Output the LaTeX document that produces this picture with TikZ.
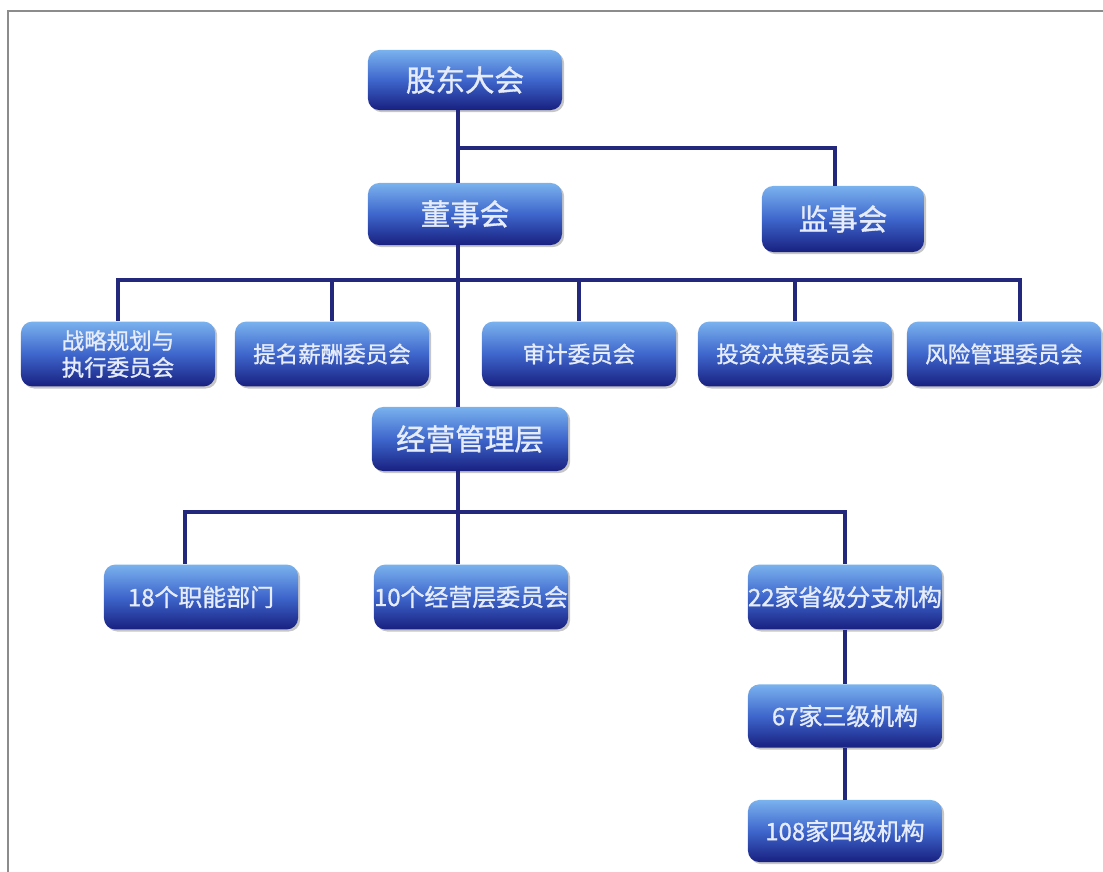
\documentclass[tikz,border=0pt]{standalone}
\usepackage{fontspec}
\setmainfont{Noto Sans CJK SC}[AutoFakeBold=1.2]
\usepackage{tikz}
\usetikzlibrary{shadows}
\definecolor{org-top}{RGB}{122,178,238}
\definecolor{org-mid}{RGB}{62,102,204}
\definecolor{org-bot}{RGB}{24,32,128}
\definecolor{org-line}{RGB}{35,40,125}
\definecolor{org-text}{RGB}{230,236,250}
\definecolor{frame-gray}{RGB}{140,140,140}

\tikzset{
  orgbox/.style={rounded corners=8pt, top color=org-top, bottom color=org-bot, middle color=org-mid,
    text=org-text, align=center, inner sep=0pt, minimum width=4.85cm, minimum height=1.62cm,
    drop shadow={shadow xshift=1.5pt, shadow yshift=-1.5pt, opacity=0.45}},
  fbig/.style={font=\fontsize{21}{24}\selectfont\bfseries},
  fsmall/.style={font=\fontsize{16}{19}\selectfont\bfseries},
  fmid/.style={font=\fontsize{17}{20}\selectfont\bfseries},
  link/.style={draw=org-line, line width=2.2pt}
}

\begin{document}
\begin{tikzpicture}[x=0.025cm, y=-0.025cm]
          \useasboundingbox (0,0) rectangle (1103,872);
          \draw[frame-gray, line width=1.6pt] (8,872) -- (8,11) -- (1103,11);

          % top levels
          \node[orgbox, fbig, minimum height=1.5cm] (gd) at (465,80) {股东大会};
          \node[orgbox, fbig, minimum height=1.55cm] (ds) at (465,214) {董事会};
          \node[orgbox, fbig, minimum width=4.05cm, minimum height=1.65cm] (js) at (843,219) {监事会};

          % committees
          \node[orgbox, fsmall] (zl) at (118,354) {战略规划与\\执行委员会};
          \node[orgbox, fsmall] (tm) at (332,354) {提名薪酬委员会};
          \node[orgbox, fsmall] (sj) at (579,354) {审计委员会};
          \node[orgbox, fsmall] (tz) at (795,354) {投资决策委员会};
          \node[orgbox, fsmall] (fx) at (1004,354) {风险管理委员会};

          \node[orgbox, fbig, minimum width=4.9cm, minimum height=1.6cm] (jy) at (470,439) {经营管理层};

          % branches
          \node[orgbox, fmid] (zn) at (201,597) {18个职能部门};
          \node[orgbox, fmid] (jc) at (471,597) {10个经营层委员会};
          \node[orgbox, fmid] (sf) at (845,597) {22家省级分支机构};
          \node[orgbox, fmid, minimum height=1.58cm] (sj3) at (845,716) {67家三级机构};
          \node[orgbox, fmid, minimum height=1.55cm] (sj4) at (845,831) {108家四级机构};

          \coordinate (trunk) at (458,0);
          \coordinate (split1) at (458,148);
          \coordinate (split2) at (458,280);
          \coordinate (split3) at (458,512);

          \draw[link] (gd.south -| trunk) -- (ds.north -| trunk);
          \draw[link] (split1) -| ([xshift=-2mm]js.north);
          \draw[link] (ds.south -| trunk) -- (jy.north -| trunk);
          \foreach \c in {zl,tm,sj,tz}
            \draw[link] (split2) -| (\c.north);
          \draw[link] (split2) -| ([xshift=4mm]fx.north);
          \draw[link] (jy.south -| trunk) -- (jc.north -| trunk);
          \draw[link] (split3) -| ([xshift=-4mm]zn.north);
          \draw[link] (split3) -| (sf.north);
          \draw[link] (sf.south) -- (sj3.north);
          \draw[link] (sj3.south) -- (sj4.north);
\end{tikzpicture}
\end{document}
